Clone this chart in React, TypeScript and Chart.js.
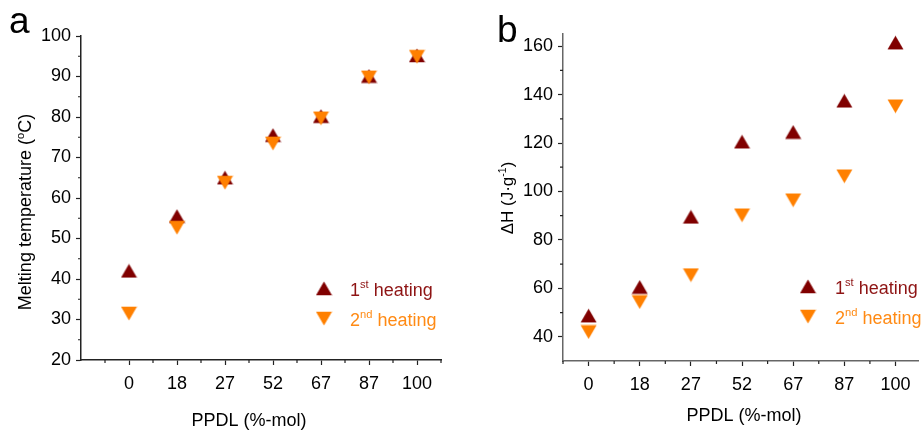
import React, { useEffect, useRef } from "react";
import { Chart, registerables } from "chart.js";
Chart.register(...registerables);

const FONT = "'Liberation Sans', Arial, Helvetica, sans-serif";

// ---------- data ----------
const categories = ["0", "18", "27", "52", "67", "87", "100"];
const tmFirstHeating = [42, 55.5, 65, 75.5, 80.2, 90.1, 95.2];
const tmSecondHeating = [31.5, 52.7, 63.8, 73.5, 79.7, 89.8, 94.9];
const dhFirstHeating = [48.7, 60.5, 89.5, 120.5, 124.5, 137.4, 161.4];
const dhSecondHeating = [42, 54.4, 65.5, 90.2, 96.4, 106.3, 135.2];
const tmTicks = [20, 30, 40, 50, 60, 70, 80, 90, 100];
const tmMinorTicks = [25, 35, 45, 55, 65, 75, 85, 95];
const dhTicks = [40, 60, 80, 100, 120, 140, 160];
const dhMinorTicks = [50, 70, 90, 110, 130, 150];
const legendLabels = [
  [{ t: "1" }, { t: "st", sup: true }, { t: " heating" }],
  [{ t: "2" }, { t: "nd", sup: true }, { t: " heating" }],
];

const FIRST_COLOR = "#800000";
const FIRST_TEXT = "#8E1414";
const SECOND_COLOR = "#FF8000";
const SECOND_TEXT = "#FF8A14";
const TICK_COLOR = "#222222";

type Seg = { t: string; sup?: boolean };

function triImage(color: string, up: boolean) {
  const c = document.createElement("canvas");
  c.width = 17;
  c.height = 15;
  const g = c.getContext("2d")!;
  g.fillStyle = color;
  g.beginPath();
  if (up) {
    g.moveTo(8.5, 0.5);
    g.lineTo(16.5, 14.3);
    g.lineTo(0.5, 14.3);
  } else {
    g.moveTo(0.5, 0.7);
    g.lineTo(16.5, 0.7);
    g.lineTo(8.5, 14.5);
  }
  g.closePath();
  g.fill();
  return c;
}

function richWidth(ctx: CanvasRenderingContext2D, segs: Seg[], size: number) {
  let w = 0;
  for (const s of segs) {
    ctx.font = `${s.sup ? size * 0.62 : size}px ${FONT}`;
    w += ctx.measureText(s.t).width;
  }
  return w;
}

function drawRich(
  ctx: CanvasRenderingContext2D,
  segs: Seg[],
  x: number,
  y: number,
  size: number,
  color: string,
  align: "left" | "center"
) {
  const total = richWidth(ctx, segs, size);
  let cx = align === "center" ? x - total / 2 : x;
  ctx.fillStyle = color;
  ctx.textAlign = "left";
  ctx.textBaseline = "alphabetic";
  for (const s of segs) {
    const fs = s.sup ? size * 0.62 : size;
    ctx.font = `${fs}px ${FONT}`;
    ctx.fillText(s.t, cx, s.sup ? y - size * 0.42 : y);
    cx += ctx.measureText(s.t).width;
  }
}

type Panel = {
  width: number;
  area: { left: number; top: number; right: number; bottom: number };
  xMin: number;
  xMax: number;
  yMin: number;
  yMax: number;
  yTicks: number[];
  yMinor: number[];
  xMinor: number[];
  yPad: number;
  axisColor: string;
  first: number[];
  second: number[];
  letter: string;
  letterX: number;
  letterY: number;
  xTitle: Seg[];
  xTitleX: number;
  xTitleY: number;
  yTitle: Seg[];
  yTitleX: number;
  yTitleY: number;
  yTitleSize: number;
  legX: number;
  legRows: number[];
  legTextX: number;
};

const panelA: Panel = {
  width: 462,
  area: { left: 81, top: 36, right: 441, bottom: 360 },
  xMin: -1,
  xMax: 6.5,
  yMin: 20,
  yMax: 100,
  yTicks: tmTicks,
  yMinor: tmMinorTicks,
  xMinor: [-0.5, 0.5, 1.5, 2.5, 3.5, 4.5, 5.5, 6.5],
  yPad: 5,
  axisColor: "#222222",
  first: tmFirstHeating,
  second: tmSecondHeating,
  letter: "a",
  letterX: 9,
  letterY: 33,
  xTitle: [{ t: "PPDL (%-mol)" }],
  xTitleX: 249,
  xTitleY: 426,
  yTitle: [{ t: "Melting temperature (" }, { t: "o", sup: true }, { t: "C)" }],
  yTitleX: 25,
  yTitleY: 212,
  yTitleSize: 18,
  legX: 324,
  legRows: [288.5, 318.5],
  legTextX: 350,
};

const panelB: Panel = {
  width: 461,
  area: { left: 101, top: 34, right: 460, bottom: 361 },
  xMin: -0.5,
  xMax: 6.44,
  yMin: 30,
  yMax: 165,
  yTicks: dhTicks,
  yMinor: dhMinorTicks,
  xMinor: [-0.5, 0.5, 1.5, 2.5, 3.5, 4.5, 5.5],
  yPad: 5,
  axisColor: "#666666",
  first: dhFirstHeating,
  second: dhSecondHeating,
  letter: "b",
  letterX: 35,
  letterY: 41.5,
  xTitle: [{ t: "PPDL (%-mol)" }],
  xTitleX: 282,
  xTitleY: 421,
  yTitle: [{ t: "\u0394H (J\u00B7g" }, { t: "-1", sup: true }, { t: ")" }],
  yTitleX: 45,
  yTitleY: 198,
  yTitleSize: 17,
  legX: 346,
  legRows: [286.5, 316.5],
  legTextX: 373,
};

function buildConfig(p: Panel): any {
  const upImg = triImage(FIRST_COLOR, true);
  const downImg = triImage(SECOND_COLOR, false);
  const overlay = {
    id: "overlay",
    afterDraw(chart: any) {
      const ctx: CanvasRenderingContext2D = chart.ctx;
      const xs = chart.scales.x;
      const ys = chart.scales.y;
      const ca = chart.chartArea;
      ctx.save();
      // minor ticks
      ctx.strokeStyle = TICK_COLOR;
      ctx.lineWidth = 1.2;
      ctx.beginPath();
      for (const v of p.xMinor) {
        const px = xs.getPixelForValue(v);
        ctx.moveTo(px, ca.bottom);
        ctx.lineTo(px, ca.bottom + 3);
      }
      for (const v of p.yMinor) {
        const py = ys.getPixelForValue(v);
        ctx.moveTo(ca.left, py);
        ctx.lineTo(ca.left - 3, py);
      }
      ctx.stroke();
      // panel letter
      ctx.fillStyle = "#000";
      ctx.font = `37px ${FONT}`;
      ctx.textAlign = "left";
      ctx.textBaseline = "alphabetic";
      ctx.fillText(p.letter, p.letterX, p.letterY);
      // x title
      drawRich(ctx, p.xTitle, p.xTitleX, p.xTitleY, 18, "#000", "center");
      // y title
      ctx.save();
      ctx.translate(p.yTitleX, p.yTitleY);
      ctx.rotate(-Math.PI / 2);
      drawRich(ctx, p.yTitle, 0, p.yTitleSize * 0.36, p.yTitleSize, "#000", "center");
      ctx.restore();
      // legend
      const imgs = [upImg, downImg];
      const cols = [FIRST_TEXT, SECOND_TEXT];
      p.legRows.forEach((ry, i) => {
        const im = imgs[i];
        ctx.drawImage(im, p.legX - im.width / 2, ry - im.height / 2);
        drawRich(ctx, legendLabels[i], p.legTextX, ry + 7, 18, cols[i], "left");
      });
      ctx.restore();
    },
  };

  return {
    type: "scatter",
    data: {
      datasets: [
        {
          label: "1st heating",
          data: p.first.map((v, i) => ({ x: i, y: v })),
          pointStyle: upImg,
          backgroundColor: FIRST_COLOR,
          borderColor: FIRST_COLOR,
          order: 2,
        },
        {
          label: "2nd heating",
          data: p.second.map((v, i) => ({ x: i, y: v })),
          pointStyle: downImg,
          backgroundColor: SECOND_COLOR,
          borderColor: SECOND_COLOR,
          order: 1,
        },
      ],
    },
    options: {
      responsive: false,
      animation: false,
      devicePixelRatio: 1,
      layout: {
        padding: {
          left: 0,
          top: p.area.top,
          right: p.width - p.area.right,
          bottom: 0,
        },
      },
      plugins: {
        legend: { display: false },
        tooltip: { enabled: false },
        title: { display: false },
      },
      scales: {
        x: {
          type: "linear",
          min: p.xMin,
          max: p.xMax,
          afterBuildTicks: (s: any) => {
            s.ticks = categories.map((_, i) => ({ value: i }));
          },
          afterFit: (s: any) => {
            s.height = 430 - p.area.bottom;
          },
          ticks: {
            callback: (v: any) => categories[Math.round(Number(v))] ?? "",
            color: "#000",
            font: { family: FONT, size: 18 },
            padding: 8,
            maxRotation: 0,
            autoSkip: false,
          },
          grid: {
            drawOnChartArea: false,
            drawTicks: true,
            tickLength: 5,
            tickColor: TICK_COLOR,
            tickWidth: 1.2,
          },
          border: { display: true, color: p.axisColor, width: 1.5 },
          title: { display: false },
        },
        y: {
          type: "linear",
          min: p.yMin,
          max: p.yMax,
          afterBuildTicks: (s: any) => {
            s.ticks = p.yTicks.map((v) => ({ value: v }));
          },
          afterFit: (s: any) => {
            s.width = p.area.left;
          },
          ticks: {
            color: "#000",
            font: { family: FONT, size: 18 },
            padding: p.yPad,
          },
          grid: {
            drawOnChartArea: false,
            drawTicks: true,
            tickLength: 5,
            tickColor: TICK_COLOR,
            tickWidth: 1.2,
          },
          border: { display: true, color: p.axisColor, width: 1.5 },
          title: { display: false },
        },
      },
    },
    plugins: [overlay],
  };
}

export default function App() {
  const refA = useRef<HTMLCanvasElement>(null);
  const refB = useRef<HTMLCanvasElement>(null);
  useEffect(() => {
    Chart.defaults.font.family = FONT;
    const a = new Chart(refA.current!, buildConfig(panelA));
    const b = new Chart(refB.current!, buildConfig(panelB));
    return () => {
      a.destroy();
      b.destroy();
    };
  }, []);
  return (
    <div style={{ position: "fixed", left: 0, top: 0, width: 923, height: 430, background: "#fff" }}>
      <canvas
        ref={refA}
        width={462}
        height={430}
        style={{ position: "absolute", left: 0, top: 0, width: 462, height: 430 }}
      />
      <canvas
        ref={refB}
        width={461}
        height={430}
        style={{ position: "absolute", left: 462, top: 0, width: 461, height: 430 }}
      />
    </div>
  );
}
